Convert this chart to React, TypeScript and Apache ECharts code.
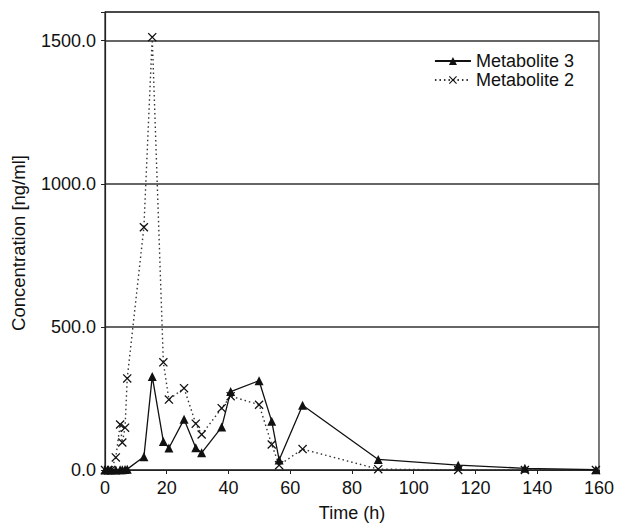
import React, { useEffect, useRef } from "react";
import * as echarts from "echarts";

const timeH = [0, 1, 2, 3.5, 4.9, 5.6, 6.5, 7.2, 12.6, 15.3, 18.9, 20.7, 25.6, 29.4, 31.3, 37.8, 40.7, 49.9, 54, 56.4, 64, 88.5, 114.4, 136, 159];
const metabolite3 = [0, 0, 0, 0, 1, 1, 2, 3, 46, 327, 100, 77, 177, 78, 60, 150, 274, 312, 170, 35, 226, 37, 17, 6, 1];
const metabolite2 = [0, 0, 0, 44, 159, 96, 148, 320, 848, 1512, 376, 246, 286, 162, 124, 216, 258, 228, 89, 17, 73, 3, 0, 0, 0];
const yTicks = [0, 500, 1000, 1500];

const crossPath = "path://M0,1 L1,0 L5,4 L9,0 L10,1 L6,5 L10,9 L9,10 L5,6 L1,10 L0,9 L4,5 Z";
const FONT = "Liberation Sans, Arial, Helvetica, sans-serif";

export default function App() {
  const ref = useRef<HTMLDivElement>(null);
  useEffect(() => {
    if (!ref.current) return;
    const chart = echarts.init(ref.current, null, { renderer: "svg" });
    chart.setOption({
      animation: false,
      backgroundColor: "#ffffff",
      textStyle: { fontFamily: FONT, color: "#111" },
      grid: {
        left: 105,
        right: 18,
        top: 12,
        bottom: 51,
        show: true,
        borderColor: "#222",
        borderWidth: 1.2,
        backgroundColor: "transparent",
      },
      legend: {
        orient: "vertical",
        right: 38,
        top: 47,
        itemWidth: 36,
        itemHeight: 10,
        itemGap: 1,
        textStyle: { fontFamily: FONT, fontSize: 18, lineHeight: 16, color: "#111" },
        data: ["Metabolite 3", "Metabolite 2"],
      },
      graphic: [
        {
          type: "text",
          x: 18,
          y: 243,
          rotation: Math.PI / 2,
          style: {
            text: "Concentration [ng/ml]",
            fontFamily: FONT,
            fontSize: 18.5,
            fill: "#111",
            align: "center",
            verticalAlign: "middle",
          },
        },
      ],
      xAxis: {
        type: "value",
        min: 0,
        max: 160,
        interval: 20,
        name: "Time (h)",
        nameLocation: "middle",
        nameGap: 34,
        nameTextStyle: { fontFamily: FONT, fontSize: 18, color: "#111" },
        axisLine: { show: true, lineStyle: { color: "#222", width: 1.2 } },
        axisTick: { show: true, length: 4, lineStyle: { color: "#222" } },
        axisLabel: { fontFamily: FONT, fontSize: 18, color: "#111", margin: 9 },
        splitLine: { show: false },
      },
      yAxis: {
        type: "value",
        min: 0,
        max: 1600,
        interval: 500,
        axisLine: { show: true, lineStyle: { color: "#222", width: 1.2 } },
        axisTick: { show: true, length: 4, lineStyle: { color: "#222" } },
        axisLabel: {
          fontFamily: FONT,
          fontSize: 18,
          color: "#111",
          margin: 9,
          formatter: (v: number) => (yTicks.includes(v) ? v.toFixed(1) : ""),
        },
        splitLine: { show: true, lineStyle: { color: "#333", width: 1.5, type: "solid" } },
      },
      series: [
        {
          name: "Metabolite 3",
          type: "line",
          data: timeH.map((t, i) => [t, metabolite3[i]]),
          symbol: "triangle",
          symbolSize: 9,
          showAllSymbol: true,
          lineStyle: { color: "#111", width: 1.3, type: "solid" },
          itemStyle: { color: "#111" },
          z: 3,
        },
        {
          name: "Metabolite 2",
          type: "line",
          data: timeH.map((t, i) => [t, metabolite2[i]]),
          symbol: crossPath,
          symbolSize: 9,
          showAllSymbol: true,
          lineStyle: { color: "#333", width: 1.4, type: [1.5, 3] },
          itemStyle: { color: "#111" },
          z: 2,
        },
      ],
    });
    return () => chart.dispose();
  }, []);
  return (
    <div
      ref={ref}
      style={{ position: "fixed", left: 0, top: 0, width: 617, height: 527, background: "#fff" }}
    />
  );
}
